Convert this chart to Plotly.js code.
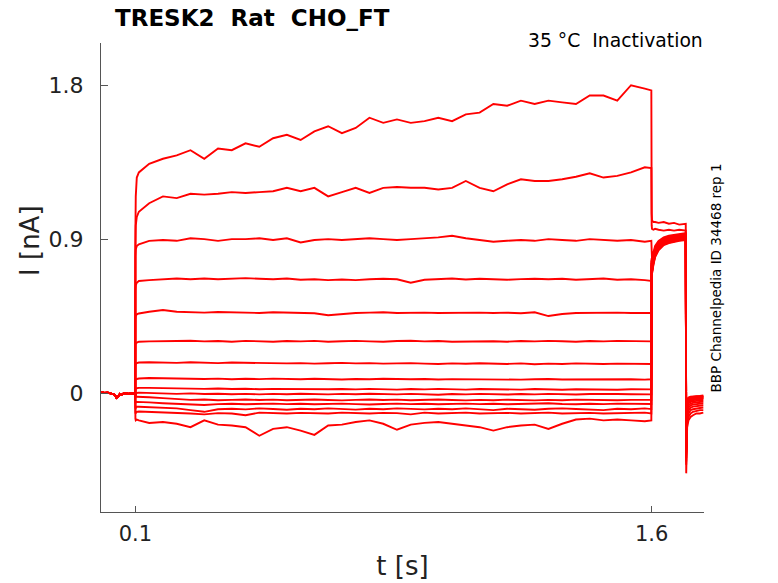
<!DOCTYPE html>
<html>
<head>
<meta charset="utf-8">
<script src="https://cdn.plot.ly/plotly-3.0.1.min.js"></script>
<style>
  html, body { margin: 0; padding: 0; background: #fff; }
  #chart { width: 778px; height: 583px; }
</style>
</head>
<body>
<div id="chart"></div>
<script>
// holding segment before the step, shared by all sweeps (s, nA)
const tPre = [0, 0.01, 0.02, 0.03, 0.04, 0.045, 0.05, 0.055, 0.06, 0.07, 0.08, 0.09, 0.0995];
const iPre = [0.005, 0.0, 0.002, -0.005, -0.01, -0.028, -0.02, -0.005, -0.008, 0.0, -0.005, 0.0, -0.01];

// step segment 0.1 - 1.6 s
const tStep = [0.1, 0.101, 0.104, 0.11, 0.14, 0.18, 0.22, 0.26, 0.30, 0.34, 0.38, 0.42, 0.46, 0.50,
  0.54, 0.58, 0.62, 0.66, 0.70, 0.74, 0.78, 0.82, 0.86, 0.90, 0.94, 0.98, 1.02, 1.06, 1.10, 1.14,
  1.18, 1.22, 1.26, 1.30, 1.34, 1.38, 1.42, 1.46, 1.50, 1.54, 1.58, 1.599];

const step1 = [0.95, 1.15, 1.26, 1.29, 1.34, 1.37, 1.39, 1.42, 1.37, 1.43, 1.42, 1.46, 1.44, 1.49, 1.51, 1.48, 1.53, 1.56, 1.52, 1.55, 1.61, 1.58, 1.60, 1.58, 1.59, 1.61, 1.59, 1.63, 1.64, 1.69, 1.68, 1.71, 1.69, 1.71, 1.70, 1.69, 1.74, 1.74, 1.71, 1.80, 1.78, 1.77];
const step2 = [0.85, 0.98, 1.03, 1.06, 1.11, 1.15, 1.14, 1.165, 1.16, 1.165, 1.175, 1.17, 1.175, 1.18, 1.2, 1.18, 1.2, 1.15, 1.175, 1.2, 1.17, 1.2, 1.205, 1.2, 1.2, 1.19, 1.2, 1.24, 1.2, 1.18, 1.22, 1.25, 1.24, 1.24, 1.25, 1.265, 1.285, 1.26, 1.27, 1.29, 1.32, 1.315];
const step3 = [0.8, 0.84, 0.86, 0.87, 0.89, 0.895, 0.89, 0.905, 0.9, 0.89, 0.9, 0.9, 0.905, 0.895, 0.905, 0.88, 0.895, 0.9, 0.895, 0.9, 0.905, 0.9, 0.895, 0.9, 0.905, 0.91, 0.92, 0.905, 0.895, 0.885, 0.89, 0.895, 0.89, 0.9, 0.895, 0.89, 0.9, 0.895, 0.89, 0.895, 0.885, 0.89];
const step4 = [0.6, 0.63, 0.645, 0.655, 0.66, 0.665, 0.67, 0.665, 0.67, 0.665, 0.668, 0.672, 0.668, 0.665, 0.67, 0.662, 0.665, 0.66, 0.664, 0.66, 0.665, 0.668, 0.665, 0.645, 0.662, 0.665, 0.67, 0.664, 0.668, 0.665, 0.662, 0.666, 0.668, 0.665, 0.668, 0.662, 0.665, 0.67, 0.662, 0.665, 0.66, 0.655];
const step5 = [0.43, 0.45, 0.46, 0.465, 0.475, 0.485, 0.475, 0.472, 0.47, 0.474, 0.472, 0.47, 0.468, 0.472, 0.47, 0.47, 0.466, 0.455, 0.462, 0.468, 0.47, 0.472, 0.468, 0.47, 0.47, 0.468, 0.47, 0.472, 0.47, 0.468, 0.47, 0.466, 0.472, 0.45, 0.462, 0.468, 0.47, 0.468, 0.47, 0.468, 0.47, 0.468];
const step6 = [0.28, 0.29, 0.295, 0.3, 0.302, 0.305, 0.304, 0.306, 0.302, 0.304, 0.3, 0.305, 0.303, 0.3, 0.304, 0.302, 0.305, 0.3, 0.303, 0.305, 0.302, 0.3, 0.304, 0.306, 0.302, 0.304, 0.3, 0.302, 0.305, 0.303, 0.3, 0.304, 0.302, 0.305, 0.303, 0.3, 0.304, 0.302, 0.305, 0.303, 0.3, 0.302];
const step7 = [0.16, 0.17, 0.175, 0.178, 0.18, 0.178, 0.176, 0.18, 0.177, 0.175, 0.178, 0.176, 0.174, 0.176, 0.173, 0.175, 0.172, 0.174, 0.176, 0.173, 0.175, 0.172, 0.174, 0.175, 0.172, 0.17, 0.173, 0.171, 0.174, 0.172, 0.17, 0.173, 0.168, 0.172, 0.17, 0.173, 0.171, 0.17, 0.172, 0.17, 0.171, 0.17];
const step8 = [0.075, 0.08, 0.082, 0.085, 0.088, 0.086, 0.084, 0.085, 0.082, 0.084, 0.08, 0.083, 0.081, 0.084, 0.082, 0.08, 0.083, 0.081, 0.079, 0.082, 0.08, 0.083, 0.081, 0.08, 0.082, 0.079, 0.081, 0.08, 0.082, 0.079, 0.081, 0.078, 0.08, 0.082, 0.079, 0.08, 0.078, 0.081, 0.079, 0.08, 0.078, 0.08];
const step9 = [0.02, 0.025, 0.028, 0.03, 0.03, 0.028, 0.026, 0.027, 0.024, 0.026, 0.023, 0.025, 0.022, 0.024, 0.023, 0.021, 0.024, 0.022, 0.023, 0.021, 0.024, 0.022, 0.02, 0.023, 0.021, 0.024, 0.022, 0.02, 0.023, 0.021, 0.022, 0.02, 0.023, 0.021, 0.019, 0.022, 0.02, 0.021, 0.019, 0.022, 0.02, 0.021];
const step10 = [-0.01, -0.005, 0.0, 0.002, 0.0, -0.003, -0.005, -0.002, -0.006, -0.004, -0.007, -0.005, -0.008, -0.005, -0.007, -0.004, -0.006, -0.008, -0.005, -0.007, -0.004, -0.006, -0.008, -0.005, -0.007, -0.01, -0.006, -0.008, -0.005, -0.007, -0.009, -0.006, -0.008, -0.005, -0.007, -0.009, -0.006, -0.008, -0.006, -0.007, -0.009, -0.008];
const step11 = [-0.03, -0.025, -0.022, -0.022, -0.025, -0.03, -0.035, -0.04, -0.038, -0.042, -0.04, -0.038, -0.041, -0.039, -0.042, -0.04, -0.038, -0.041, -0.043, -0.04, -0.038, -0.041, -0.039, -0.042, -0.04, -0.038, -0.041, -0.043, -0.04, -0.042, -0.039, -0.041, -0.043, -0.04, -0.042, -0.039, -0.041, -0.04, -0.042, -0.04, -0.041, -0.04];
const step12 = [-0.06, -0.055, -0.052, -0.053, -0.055, -0.06, -0.062, -0.066, -0.07, -0.065, -0.063, -0.066, -0.064, -0.062, -0.065, -0.063, -0.066, -0.064, -0.062, -0.065, -0.067, -0.064, -0.062, -0.065, -0.063, -0.066, -0.064, -0.062, -0.065, -0.063, -0.066, -0.064, -0.062, -0.06, -0.064, -0.066, -0.063, -0.065, -0.062, -0.064, -0.066, -0.064];
const step13 = [-0.09, -0.085, -0.08, -0.08, -0.082, -0.085, -0.09, -0.1, -0.11, -0.095, -0.092, -0.096, -0.09, -0.094, -0.098, -0.092, -0.095, -0.09, -0.094, -0.097, -0.092, -0.095, -0.09, -0.094, -0.096, -0.092, -0.095, -0.09, -0.094, -0.1, -0.092, -0.095, -0.098, -0.092, -0.09, -0.094, -0.096, -0.1, -0.092, -0.095, -0.09, -0.094];
const step14 = [-0.12, -0.115, -0.11, -0.108, -0.11, -0.112, -0.115, -0.12, -0.125, -0.118, -0.12, -0.13, -0.115, -0.118, -0.12, -0.116, -0.118, -0.12, -0.115, -0.118, -0.12, -0.116, -0.118, -0.125, -0.115, -0.12, -0.118, -0.115, -0.12, -0.118, -0.116, -0.12, -0.118, -0.115, -0.12, -0.118, -0.116, -0.12, -0.118, -0.116, -0.115, -0.12];
const step15 = [-0.15, -0.16, -0.155, -0.16, -0.175, -0.17, -0.18, -0.2, -0.16, -0.185, -0.19, -0.2, -0.25, -0.21, -0.2, -0.22, -0.245, -0.19, -0.185, -0.17, -0.16, -0.18, -0.215, -0.185, -0.175, -0.17, -0.18, -0.19, -0.2, -0.22, -0.2, -0.19, -0.185, -0.21, -0.18, -0.155, -0.15, -0.16, -0.155, -0.16, -0.165, -0.16];

// test pulse 1.6 - 1.7 s
const tTail = [1.6, 1.601, 1.605, 1.61, 1.62, 1.635, 1.65, 1.665, 1.68, 1.699];
const tail1 = [1.05, 1.01, 1.0, 1.0, 0.995, 1.0, 0.99, 0.995, 0.985, 0.99];
const tail2 = [0.98, 0.96, 0.955, 0.96, 0.955, 0.95, 0.955, 0.95, 0.955, 0.95];
const tail3 = [0.8, 0.78, 0.82, 0.86, 0.89, 0.91, 0.92, 0.925, 0.93, 0.935];
const tail4 = [0.79, 0.76, 0.81, 0.85, 0.885, 0.905, 0.915, 0.92, 0.925, 0.93];
const tail5 = [0.78, 0.75, 0.8, 0.845, 0.88, 0.9, 0.91, 0.915, 0.92, 0.925];
const tail6 = [0.78, 0.74, 0.795, 0.84, 0.875, 0.895, 0.905, 0.91, 0.915, 0.92];
const tail7 = [0.77, 0.74, 0.79, 0.835, 0.87, 0.89, 0.9, 0.908, 0.912, 0.918];
const tail8 = [0.77, 0.73, 0.785, 0.83, 0.865, 0.888, 0.898, 0.905, 0.91, 0.915];
const tail9 = [0.76, 0.73, 0.78, 0.825, 0.862, 0.885, 0.895, 0.902, 0.908, 0.912];
const tail10 = [0.76, 0.72, 0.775, 0.82, 0.858, 0.882, 0.892, 0.9, 0.905, 0.91];
const tail11 = [0.75, 0.72, 0.77, 0.815, 0.855, 0.878, 0.89, 0.897, 0.902, 0.907];
const tail12 = [0.75, 0.71, 0.765, 0.81, 0.85, 0.875, 0.887, 0.894, 0.9, 0.905];
const tail13 = [0.74, 0.71, 0.76, 0.805, 0.845, 0.872, 0.884, 0.89, 0.896, 0.9];
const tail14 = [0.74, 0.7, 0.755, 0.8, 0.84, 0.868, 0.88, 0.887, 0.893, 0.897];
const tail15 = [0.73, 0.7, 0.75, 0.795, 0.835, 0.865, 0.877, 0.884, 0.89, 0.894];

// back to holding after 1.7 s
const tPost = [1.7003, 1.701, 1.703, 1.707, 1.713, 1.72, 1.73, 1.74, 1.75];
const post1 = [-0.47, -0.28, -0.2, -0.16, -0.14, -0.13, -0.12, -0.12, -0.115];
const post2 = [-0.42, -0.25, -0.18, -0.14, -0.12, -0.11, -0.105, -0.1, -0.1];
const post3 = [-0.4, -0.22, -0.15, -0.12, -0.1, -0.095, -0.09, -0.088, -0.085];
const post4 = [-0.38, -0.2, -0.13, -0.1, -0.085, -0.08, -0.078, -0.075, -0.072];
const post5 = [-0.36, -0.18, -0.11, -0.085, -0.072, -0.068, -0.065, -0.063, -0.06];
const post6 = [-0.35, -0.16, -0.095, -0.072, -0.062, -0.058, -0.055, -0.053, -0.05];
const post7 = [-0.34, -0.14, -0.08, -0.06, -0.052, -0.048, -0.046, -0.044, -0.042];
const post8 = [-0.33, -0.12, -0.07, -0.05, -0.044, -0.04, -0.038, -0.036, -0.035];
const post9 = [-0.32, -0.11, -0.065, -0.046, -0.04, -0.036, -0.034, -0.032, -0.03];
const post10 = [-0.31, -0.1, -0.06, -0.042, -0.036, -0.033, -0.031, -0.03, -0.028];
const post11 = [-0.3, -0.095, -0.055, -0.038, -0.032, -0.03, -0.028, -0.026, -0.025];
const post12 = [-0.3, -0.09, -0.05, -0.035, -0.03, -0.027, -0.025, -0.024, -0.022];
const post13 = [-0.29, -0.085, -0.046, -0.032, -0.027, -0.024, -0.022, -0.021, -0.02];
const post14 = [-0.28, -0.08, -0.042, -0.029, -0.024, -0.021, -0.02, -0.019, -0.018];
const post15 = [-0.27, -0.075, -0.038, -0.026, -0.021, -0.019, -0.018, -0.017, -0.015];

const steps = [step1, step2, step3, step4, step5, step6, step7, step8, step9, step10, step11, step12, step13, step14, step15];
const tails = [tail1, tail2, tail3, tail4, tail5, tail6, tail7, tail8, tail9, tail10, tail11, tail12, tail13, tail14, tail15];
const posts = [post1, post2, post3, post4, post5, post6, post7, post8, post9, post10, post11, post12, post13, post14, post15];

const tAll = tPre.concat(tStep, tTail, tPost);

var data = steps.map(function (s, k) {
  return {
    x: tAll,
    y: iPre.concat(s, tails[k], posts[k]),
    type: 'scatter',
    mode: 'lines',
    line: { color: '#ff0000', width: 1.9 },
    hoverinfo: 'skip',
    showlegend: false
  };
});

var font = 'DejaVu Sans, Liberation Sans, sans-serif';

var layout = {
  width: 778,
  height: 583,
  margin: { l: 101, r: 74, t: 43, b: 71 },
  paper_bgcolor: '#ffffff',
  plot_bgcolor: '#ffffff',
  font: { family: font, color: '#222' },
  title: {
    text: 'TRESK2\u00a0 Rat\u00a0 CHO_FT',
    font: { family: font, size: 23, color: '#000', weight: 'bold' },
    xref: 'container', x: 115 / 778, xanchor: 'left',
    yref: 'container', y: 1 - 18 / 583, yanchor: 'middle'
  },
  xaxis: {
    range: [0, 1.752],
    tickvals: [0.1, 1.6],
    ticktext: ['0.1', '1.6'],
    ticks: 'inside', ticklen: 6, tickcolor: '#555',
    ticklabelstandoff: 3,
    showline: true, linecolor: '#555', linewidth: 1,
    showgrid: false, zeroline: false,
    tickfont: { size: 21, color: '#222' },
    title: { text: 't [s]', font: { size: 26, color: '#222' }, standoff: 11 }
  },
  yaxis: {
    range: [-0.696, 2.047],
    tickvals: [0, 0.9, 1.8],
    ticktext: ['0', '0.9', '1.8'],
    ticks: 'inside', ticklen: 7, tickcolor: '#555',
    ticklabelstandoff: 12,
    showline: true, linecolor: '#555', linewidth: 1,
    showgrid: false, zeroline: false,
    tickfont: { size: 22, color: '#222' }
  },
  annotations: [
    {
      // y-axis title, placed level with the 0.9 tick as in the original
      text: 'I [nA]',
      xref: 'paper', yref: 'paper', x: -0.1177, y: 0.578,
      xanchor: 'center', yanchor: 'middle', textangle: -90,
      showarrow: false,
      font: { family: font, size: 26, color: '#222' }
    },
    {
      text: '35 °C\u00a0 Inactivation',
      xref: 'paper', yref: 'paper', x: 1, y: 1.006,
      xanchor: 'right', yanchor: 'middle', xshift: 1,
      showarrow: false,
      font: { family: font, size: 18.8, color: '#000' }
    },
    {
      text: 'BBP Channelpedia ID 34468 rep 1',
      xref: 'paper', yref: 'paper', x: 1.0199, y: 0.5,
      xanchor: 'center', yanchor: 'middle', textangle: -90,
      showarrow: false,
      font: { family: font, size: 13.5, color: '#000' }
    }
  ]
};

Plotly.newPlot('chart', data, layout, { displayModeBar: false, staticPlot: true });
</script>
</body>
</html>
